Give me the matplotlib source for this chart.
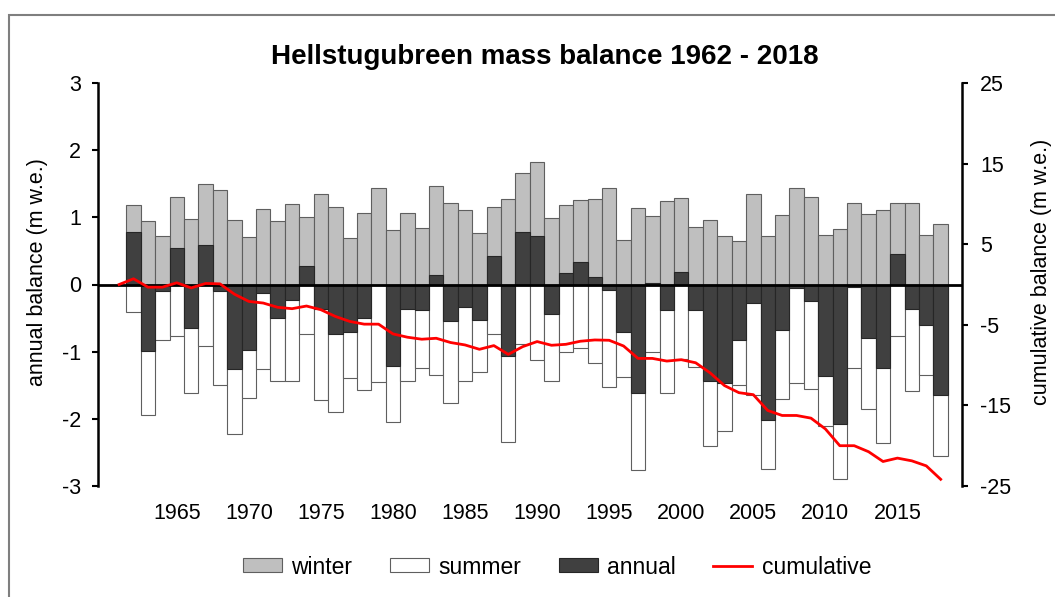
import numpy as np
import matplotlib
matplotlib.use("Agg")
import matplotlib.pyplot as plt
from matplotlib.patches import Patch, Rectangle
from matplotlib.lines import Line2D

plt.rcParams['font.family'] = ['Liberation Sans', 'DejaVu Sans']
plt.rcParams['axes.unicode_minus'] = False

years = list(range(1962, 2019))

# winter balance (m w.e.)
winter = [1.19, 0.94, 0.72, 1.31, 0.97, 1.50, 1.40, 0.96, 0.71, 1.13,
          0.94, 1.20, 1.01, 1.35, 1.15, 0.69, 1.07, 1.44, 0.81, 1.06,
          0.84, 1.47, 1.22, 1.11, 0.77, 1.15, 1.28, 1.66, 1.83, 0.99,
          1.18, 1.26, 1.28, 1.43, 0.66, 1.14, 1.02, 1.24, 1.29, 0.85,
          0.96, 0.72, 0.65, 1.35, 0.72, 1.04, 1.43, 1.31, 0.74, 0.83,
          1.21, 1.05, 1.11, 1.21, 1.21, 0.73, 0.90]

# summer balance (m w.e.)
summer = [-0.41, -1.94, -0.83, -0.77, -1.62, -0.92, -1.50, -2.23, -1.69, -1.26,
          -1.44, -1.44, -0.74, -1.72, -1.90, -1.39, -1.57, -1.45, -2.04, -1.43,
          -1.24, -1.34, -1.77, -1.44, -1.31, -0.73, -2.35, -0.89, -1.13, -1.43,
          -1.01, -0.94, -1.17, -1.52, -1.37, -2.76, -1.01, -1.62, -1.11, -1.23,
          -2.40, -2.18, -1.50, -1.64, -2.75, -1.71, -1.47, -1.56, -2.11, -2.90,
          -1.24, -1.86, -2.36, -0.76, -1.58, -1.34, -2.56]

# annual balance (m w.e.)
annual = [0.78, -0.99, -0.10, 0.54, -0.65, 0.59, -0.09, -1.26, -0.98, -0.12,
          -0.50, -0.23, 0.27, -0.36, -0.74, -0.70, -0.50, -0.01, -1.22, -0.36,
          -0.38, 0.14, -0.54, -0.33, -0.53, 0.43, -1.07, 0.78, 0.72, -0.44,
          0.17, 0.33, 0.11, -0.08, -0.70, -1.61, 0.02, -0.38, 0.18, -0.38,
          -1.44, -1.46, -0.83, -0.28, -2.02, -0.67, -0.05, -0.25, -1.36, -2.08,
          -0.04, -0.80, -1.25, 0.46, -0.36, -0.61, -1.65]

# cumulative balance (m w.e.), starting from 0 in 1961
cum_years = list(range(1961, 2019))
cumulative = [0.0, 0.71, -0.33, -0.33, 0.21, -0.42, 0.13, 0.08, -1.20, -2.10,
              -2.30, -2.83, -3.00, -2.67, -3.13, -3.96, -4.58, -4.92, -4.92, -6.13,
              -6.54, -6.79, -6.67, -7.20, -7.50, -8.04, -7.58, -8.67, -7.71, -7.08,
              -7.54, -7.42, -7.04, -6.88, -6.92, -7.63, -9.17, -9.17, -9.50, -9.33,
              -9.71, -10.96, -12.54, -13.42, -13.67, -15.63, -16.25, -16.25, -16.58, -17.92,
              -20.00, -20.00, -20.75, -21.96, -21.54, -21.88, -22.50, -24.17]

tick_years = [1965, 1970, 1975, 1980, 1985, 1990, 1995, 2000, 2005, 2010, 2015]

fig = plt.figure(figsize=(10.55, 5.97), dpi=100)
ax = fig.add_axes([97.5 / 1055, 1 - 486 / 597, (962.3 - 97.5) / 1055, (486 - 83) / 597])

# chart area frame
fig.patches.append(Rectangle((9 / 1055, -0.1), 1.2, 1 - 15 / 597 + 0.1,
                             transform=fig.transFigure, fill=False,
                             edgecolor='#7f7f7f', lw=1.5))

edge = '#5f5f5f'
ax.bar(years, winter, width=1.0, color='#bfbfbf', edgecolor=edge, lw=0.8, zorder=2)
ax.bar(years, summer, width=1.0, color='white', edgecolor=edge, lw=0.8, zorder=2)
ax.bar(years, annual, width=1.0, color='#404040', edgecolor='#262626', lw=0.8, zorder=3)
ax.axhline(0, color='black', lw=2, zorder=4)

ax.set_xlim(1959.5, 2019.5)
ax.set_ylim(-3, 3)
ax.set_yticks([-3, -2, -1, 0, 1, 2, 3])
ax.set_yticklabels(['-3', '-2', '-1', '0', '1', '2', '3'])
ax.set_xticks(tick_years)
ax.set_xticklabels([str(y) for y in tick_years])
ax.tick_params(axis='x', length=0, pad=12, labelsize=15.5)
ax.tick_params(axis='y', direction='out', length=4, width=1.5, pad=8, labelsize=15.5)
for s in ['top', 'bottom', 'right']:
    ax.spines[s].set_visible(False)
ax.spines['left'].set_linewidth(1.8)

ax2 = ax.twinx()
ax2.plot(cum_years, cumulative, color='#ff0000', lw=2, zorder=5)
ax2.set_ylim(-25, 25)
ax2.set_yticks([-25, -15, -5, 5, 15, 25])
ax2.set_yticklabels(['-25', '-15', '-5', '5', '15', '25'])
ax2.tick_params(axis='y', direction='out', length=4, width=1.5, pad=9, labelsize=15.5)
for s in ['top', 'bottom', 'left']:
    ax2.spines[s].set_visible(False)
ax2.spines['right'].set_linewidth(1.8)

fig.text(544.5 / 1055, 1 - 57 / 597, 'Hellstugubreen mass balance 1962 - 2018',
         ha='center', va='center', fontsize=20, fontweight='bold')
fig.text(38 / 1055, 1 - 272 / 597, 'annual balance (m w.e.)', rotation=90,
         ha='center', va='center', fontsize=15.5)
fig.text(1042 / 1055, 1 - 272 / 597, 'cumulative balance (m w.e.)', rotation=90,
         ha='center', va='center', fontsize=15.5)

handles = [Patch(facecolor='#bfbfbf', edgecolor=edge, lw=0.8),
           Patch(facecolor='white', edgecolor=edge, lw=0.8),
           Patch(facecolor='#404040', edgecolor='#262626', lw=0.8),
           Line2D([0], [0], color='#ff0000', lw=2)]
fig.legend(handles, ['winter', 'summer', 'annual', 'cumulative'], ncol=4,
           loc='center', bbox_to_anchor=(557 / 1055, 1 - 567 / 597),
           frameon=False, fontsize=16.5, handlelength=1.7, handleheight=0.55,
           handletextpad=0.4, columnspacing=1.65)

fig.savefig('out.png', dpi=100)
